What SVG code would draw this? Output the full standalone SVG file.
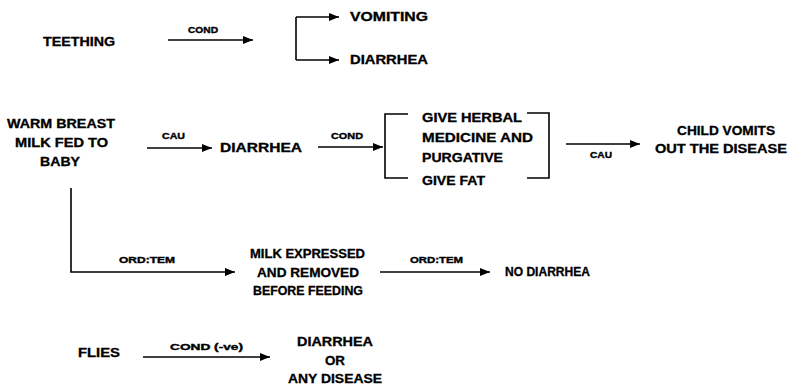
<svg xmlns="http://www.w3.org/2000/svg" width="788" height="385" viewBox="0 0 788 385">
<defs>
<marker id="ah" markerUnits="userSpaceOnUse" markerWidth="12" markerHeight="10" refX="10" refY="4" orient="auto">
<path d="M0,0 L10,4 L0,8 Z" fill="#000"/>
</marker>
<style>
.t{font-family:"Liberation Sans",Arial,sans-serif;font-weight:bold;font-size:12px;fill:#000;stroke:#000;stroke-width:0.3}
.l{font-family:"Liberation Sans",Arial,sans-serif;font-weight:bold;font-size:9.5px;fill:#000;stroke:#000;stroke-width:0.4}
.c{stroke:#000;stroke-width:1.6;fill:none}
.a{stroke:#000;stroke-width:1.6;fill:none;marker-end:url(#ah)}
</style>
</defs>
<rect width="788" height="385" fill="#fff"/>

<g id="teething"><text class="t" x="43" y="46" textLength="72" lengthAdjust="spacingAndGlyphs">TEETHING</text></g>
<g id="vomiting"><text class="t" x="350" y="21" textLength="78" lengthAdjust="spacingAndGlyphs">VOMITING</text></g>
<g id="diarrhea1"><text class="t" x="350" y="64" textLength="78" lengthAdjust="spacingAndGlyphs">DIARRHEA</text></g>

<g id="warm-milk">
<text class="t" x="7" y="128" textLength="108" lengthAdjust="spacingAndGlyphs">WARM BREAST</text>
<text class="t" x="15" y="147" textLength="93" lengthAdjust="spacingAndGlyphs">MILK FED TO</text>
<text class="t" x="40" y="166" textLength="40" lengthAdjust="spacingAndGlyphs">BABY</text>
</g>
<g id="diarrhea2"><text class="t" x="220" y="152" textLength="82" lengthAdjust="spacingAndGlyphs">DIARRHEA</text></g>
<g id="remedies">
<text class="t" x="422" y="122" textLength="100" lengthAdjust="spacingAndGlyphs">GIVE HERBAL</text>
<text class="t" x="422" y="142" textLength="111" lengthAdjust="spacingAndGlyphs">MEDICINE AND</text>
<text class="t" x="422" y="162" textLength="81" lengthAdjust="spacingAndGlyphs">PURGATIVE</text>
<text class="t" x="422" y="185" textLength="63" lengthAdjust="spacingAndGlyphs">GIVE FAT</text>
<path class="c" d="M408,114 H385 V178 H408"/>
<path class="c" d="M527,113 H549 V178 H527"/>
</g>
<g id="child-vomits">
<text class="t" x="677" y="135" textLength="98" lengthAdjust="spacingAndGlyphs">CHILD VOMITS</text>
<text class="t" x="655" y="153" textLength="132" lengthAdjust="spacingAndGlyphs">OUT THE DISEASE</text>
</g>

<g id="milk-expressed">
<text class="t" x="250" y="258" textLength="115" lengthAdjust="spacingAndGlyphs">MILK EXPRESSED</text>
<text class="t" x="257" y="277" textLength="102" lengthAdjust="spacingAndGlyphs">AND REMOVED</text>
<text class="t" x="253" y="295" textLength="110" lengthAdjust="spacingAndGlyphs">BEFORE FEEDING</text>
</g>
<g id="no-diarrhea"><text class="t" x="505" y="276" textLength="85" lengthAdjust="spacingAndGlyphs">NO DIARRHEA</text></g>

<g id="flies"><text class="t" x="78" y="357" textLength="42" lengthAdjust="spacingAndGlyphs">FLIES</text></g>
<g id="diarrhea-any">
<text class="t" x="297" y="346" textLength="76" lengthAdjust="spacingAndGlyphs">DIARRHEA</text>
<text class="t" x="325" y="365" textLength="20" lengthAdjust="spacingAndGlyphs">OR</text>
<text class="t" x="288" y="383" textLength="94" lengthAdjust="spacingAndGlyphs">ANY DISEASE</text>
</g>

<g id="connectors">
<line class="a" x1="168" y1="40" x2="253" y2="40"/>
<text class="l" x="188" y="33" textLength="30" lengthAdjust="spacingAndGlyphs">COND</text>
<path class="c" d="M296,17 V60"/>
<line class="a" x1="296" y1="17" x2="339" y2="17"/>
<line class="a" x1="296" y1="60" x2="339" y2="60"/>

<line class="a" x1="147" y1="148" x2="212" y2="148"/>
<text class="l" x="162" y="139" textLength="23" lengthAdjust="spacingAndGlyphs">CAU</text>
<line class="a" x1="318" y1="147" x2="383" y2="147"/>
<text class="l" x="331" y="139" textLength="32" lengthAdjust="spacingAndGlyphs">COND</text>
<line class="a" x1="566" y1="144" x2="640" y2="144"/>
<text class="l" x="590" y="158" textLength="22" lengthAdjust="spacingAndGlyphs">CAU</text>

<path class="a" d="M71,188 V272 H235"/>
<text class="l" x="119" y="263" textLength="56" lengthAdjust="spacingAndGlyphs">ORD:TEM</text>
<line class="a" x1="380" y1="272" x2="490" y2="272"/>
<text class="l" x="410" y="263" textLength="53" lengthAdjust="spacingAndGlyphs">ORD:TEM</text>

<line class="a" x1="143" y1="357" x2="270" y2="357"/>
<text class="l" x="170" y="350" textLength="73" lengthAdjust="spacingAndGlyphs">COND (-ve)</text>
</g>
</svg>
